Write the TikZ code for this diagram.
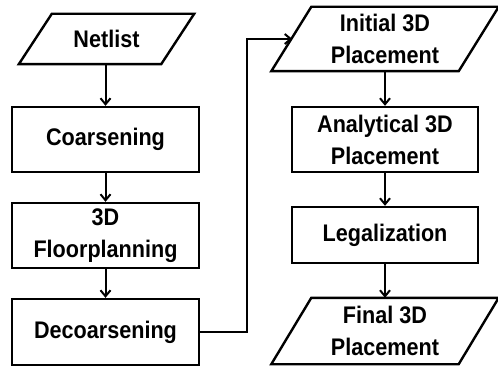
\documentclass[tikz,border=0pt]{standalone}
\usepackage{fontspec}
\setmainfont{Liberation Sans}[FakeStretch=0.9]
\usetikzlibrary{arrows.meta,calc}
\tikzset{
  lblfont/.style={font=\bfseries\fontsize{24}{32}\selectfont},
  boxst/.style={draw, line width=2.4pt, rectangle, minimum width=187pt, minimum height=65pt, inner sep=0pt, align=center, lblfont},
  parast/.style={rectangle, inner sep=0pt, align=center, lblfont},
  edgeline/.style={line width=2.4pt, line join=miter},
  arr/.style={line width=2pt, -{Straight Barb[length=6pt,width=10pt,line width=2pt]}},
}
\begin{document}
\begin{tikzpicture}[x=1pt,y=-1pt]
\useasboundingbox (0,0) rectangle (498,369);
% left column
\node[parast, minimum width=142pt, minimum height=50pt] (net) at (106.5,39) {Netlist};
\draw[edgeline] ([xshift=16.5pt]net.north west) -- ([xshift=16.5pt]net.north east) -- ([xshift=-16.5pt]net.south east) -- ([xshift=-16.5pt]net.south west) -- cycle;
\node[boxst] (coarse) at (105.5,139.5) {Coarsening};
\node[boxst] (floor) at (105.5,235.5) {3D\\Floorplanning};
\node[boxst, minimum height=66pt] (deco) at (105.5,332) {Decoarsening};
% right column
\node[parast, minimum width=187pt, minimum height=64pt] (init) at (385,39) {Initial 3D\\Placement};
\draw[edgeline] ([xshift=20pt]init.north west) -- ([xshift=20pt]init.north east) -- ([xshift=-20pt]init.south east) -- ([xshift=-20pt]init.south west) -- cycle;
\coordinate (initL) at ($(init.west)+(1,0)$);
\node[boxst, minimum width=186pt] (anal) at (385,139.5) {Analytical 3D\\Placement};
\node[boxst, minimum width=186pt, minimum height=56pt] (legal) at (385,235) {Legalization};
\node[parast, minimum width=187pt, minimum height=66pt] (final) at (385,331) {Final 3D\\Placement};
\draw[edgeline] ([xshift=20pt]final.north west) -- ([xshift=20pt]final.north east) -- ([xshift=-20pt]final.south east) -- ([xshift=-20pt]final.south west) -- cycle;
% connectors
\draw[arr] (coarse.north |- net.south) -- (coarse.north);
\draw[arr] (coarse.south) -- (floor.north);
\draw[arr] (floor.south) -- (deco.north);
\coordinate (turn) at (247,39);
\draw[arr] (deco.east) -| (turn) -- (initL);
\draw[arr] (init.south) -- (anal.north);
\draw[arr] (anal.south) -- (legal.north);
\draw[arr] (legal.south) -- (final.north);
\end{tikzpicture}
\end{document}
